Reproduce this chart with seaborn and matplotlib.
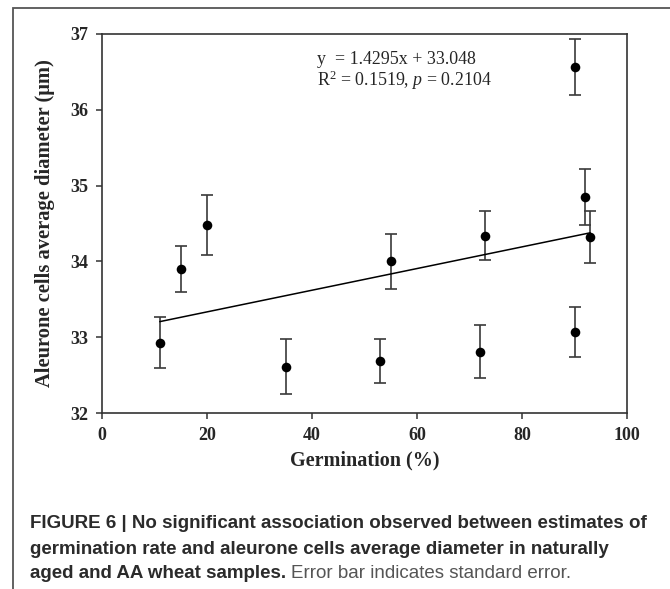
import matplotlib
matplotlib.use("Agg")
import matplotlib.pyplot as plt
import seaborn as sns
import numpy as np
from matplotlib.patches import Rectangle

# germination (%) and aleurone cell diameter (um) with standard error
germination = [11, 15, 20, 35, 53, 55, 72, 73, 90, 90, 92, 93]
diameter = [32.93, 33.90, 34.48, 32.61, 32.69, 34.00, 32.81, 34.34, 36.57, 33.07, 34.85, 34.32]
std_error = [0.33, 0.30, 0.39, 0.36, 0.29, 0.36, 0.35, 0.32, 0.37, 0.33, 0.37, 0.34]

# regression reported in the figure (x as a fraction)
slope = 1.4295
intercept = 33.048
eq_line = "y  = 1.4295x + 33.048"
stat_line = r"R$^{2}$ = 0.1519, $p$ = 0.2104"

x_ticks = [0, 20, 40, 60, 80, 100]
y_ticks = [32, 33, 34, 35, 36, 37]

caption_1 = "FIGURE 6 | No significant association observed between estimates of"
caption_2 = "germination rate and aleurone cells average diameter in naturally"
caption_3_bold = "aged and AA wheat samples."
caption_3_rest = "Error bar indicates standard error."

sns.set_style("ticks")
plt.rcParams["font.family"] = ["Liberation Serif", "DejaVu Serif"]
plt.rcParams["mathtext.fontset"] = "custom"
plt.rcParams["mathtext.rm"] = "Liberation Serif"
plt.rcParams["mathtext.it"] = "Liberation Serif:italic"

W, H = 670, 589
fig = plt.figure(figsize=(W / 100, H / 100), dpi=100)
ax = fig.add_axes([102 / W, 1 - 413 / H, 525 / W, 379 / H])

ax.errorbar(germination, diameter, yerr=std_error, fmt="none",
            ecolor="#3a3a3a", elinewidth=1.2, capsize=4.3, capthick=1.2, zorder=2)
sns.scatterplot(x=germination, y=diameter, color="black", s=48,
                edgecolor="black", linewidth=0, zorder=3, ax=ax)

fit_x = np.array([min(germination), max(germination)])
fit_y = intercept + slope * fit_x / 100
sns.lineplot(x=fit_x, y=fit_y, color="black", lw=1.1, ax=ax, zorder=2)

ax.set_xlim(0, 100)
ax.set_ylim(32, 37)
ax.set_xticks(x_ticks)
ax.set_yticks(y_ticks)
for side in ["top", "right", "bottom", "left"]:
    ax.spines[side].set_visible(True)
    ax.spines[side].set_color("#333333")
    ax.spines[side].set_linewidth(1.2)
ax.tick_params(direction="out", length=4, width=1.1, color="#333333",
               labelsize=13, pad=6)
for lab in ax.get_xticklabels() + ax.get_yticklabels():
    lab.set_fontweight("bold")

ax.set_xlabel("Germination (%)", fontsize=14.5, fontweight="bold", va="top")
ax.set_ylabel("Aleurone cells average diameter (\u03bcm)", fontsize=14.8,
              fontweight="bold")
ax.xaxis.set_label_coords(0.5, -0.1)
ax.yaxis.set_label_coords(-0.09, 0.5)

fig.text(317 / W, 1 - 59 / H, eq_line, fontsize=12.9, va="center", ha="left")
fig.text(317 / W, 1 - 80 / H, stat_line, fontsize=12.9, va="center", ha="left")

# outer frame
fig.patches.append(Rectangle((13 / W, -0.1), 1.2, 1 - 8 / H + 0.1,
                             transform=fig.transFigure, fill=False,
                             edgecolor="#555555", lw=1.3))

cap_font = ["Liberation Sans", "DejaVu Sans"]
renderer = fig.canvas.get_renderer()
t1 = fig.text(30 / W, 1 - 524 / H, caption_1, fontsize=12, fontweight="bold",
              family=cap_font, color="#2b2b2b", va="center")
w1 = t1.get_window_extent(renderer).width
cap_size = 12 * 614 / w1
t1.set_fontsize(cap_size)
fig.text(30 / W, 1 - 549 / H, caption_2, fontsize=cap_size, fontweight="bold",
         family=cap_font, color="#2b2b2b", va="center")
t3 = fig.text(30 / W, 1 - 573 / H, caption_3_bold, fontsize=cap_size,
              fontweight="bold", family=cap_font, color="#2b2b2b", va="center")
w3 = t3.get_window_extent(renderer).width
fig.text((30 + w3 + 5) / W, 1 - 573 / H, caption_3_rest, fontsize=cap_size,
         family=cap_font, color="#555555", va="center")

fig.savefig("out.png", dpi=100)
